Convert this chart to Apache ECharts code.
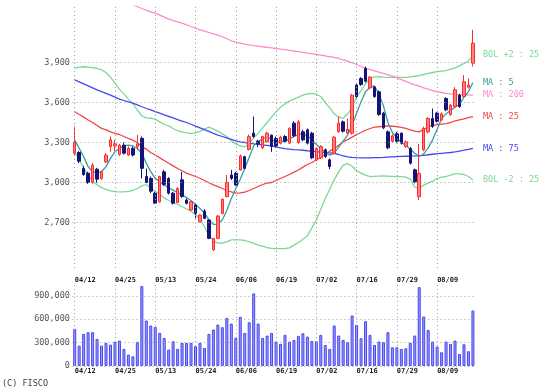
<!DOCTYPE html>
<html><head><meta charset="utf-8">
<script src="https://cdn.jsdelivr.net/npm/echarts@6/dist/echarts.min.js"></script>
<style>html,body{margin:0;padding:0;background:#fff}#c{width:554px;height:391px}</style>
</head><body><div id="c"></div>
<script>
const dates = ['04/12','04/15','04/16','04/17','04/18','04/19','04/22','04/23','04/24','04/25',
'04/26','04/30','05/01','05/02','05/07','05/08','05/09','05/10','05/13','05/14',
'05/15','05/16','05/17','05/20','05/21','05/22','05/23','05/24','05/27','05/28',
'05/29','05/30','05/31','06/03','06/04','06/05','06/06','06/07','06/10','06/11',
'06/12','06/13','06/14','06/17','06/18','06/19','06/20','06/21','06/24','06/25',
'06/26','06/27','06/28','07/01','07/02','07/03','07/04','07/05','07/08','07/09',
'07/10','07/11','07/12','07/16','07/17','07/18','07/19','07/22','07/23','07/24',
'07/25','07/26','07/29','07/30','07/31','08/01','08/02','08/05','08/06','08/07',
'08/08','08/09','08/13','08/14','08/15','08/16','08/19','08/20','08/21','08/22'];

// [open, close, low, high]
const candles = [
[3220,3300,3205,3420],[3225,3160,3145,3235],[3105,3060,3050,3125],[3070,3000,2990,3080],[3000,3130,2990,3145],
[3100,3025,2995,3110],[3030,3080,3020,3090],[3155,3205,3145,3220],[3270,3320,3230,3345],[3275,3290,3235,3320],
[3210,3280,3200,3290],[3280,3220,3210,3300],[3206,3256,3200,3270],[3256,3206,3195,3270],[3270,3290,3244,3356],
[3331,3106,3031,3345],[3045,3000,2995,3105],[3030,2935,2920,3045],[2920,2845,2840,2930],[2855,3045,2850,3050],
[3080,2985,2975,3095],[3030,2920,2910,3040],[2920,2845,2835,2930],[2850,2955,2845,2965],[3020,2895,2885,3080],
[2869,2844,2835,2880],[2794,2856,2785,2865],[2831,2769,2731,2840],[2706,2756,2700,2760],[2786,2731,2725,2800],
[2719,2581,2575,2725],[2495,2580,2488,2585],[2581,2749,2575,2755],[2769,2874,2760,2880],[2894,2999,2890,3056],
[3056,3031,3019,3094],[3069,2981,2975,3080],[3094,3199,3090,3210],[3194,3106,3100,3200],[3249,3344,3240,3360],
[3370,3345,3335,3495],[3310,3290,3265,3320],[3260,3345,3250,3350],[3305,3370,3300,3380],[3355,3270,3230,3360],
[3330,3275,3260,3345],[3295,3340,3285,3350],[3345,3310,3300,3355],[3295,3405,3290,3415],[3445,3350,3340,3460],
[3300,3455,3290,3470],[3380,3320,3310,3395],[3395,3295,3285,3405],[3370,3185,3175,3380],[3170,3255,3160,3265],
[3185,3270,3175,3280],[3245,3195,3185,3255],[3170,3120,3100,3180],[3220,3340,3210,3350],[3380,3445,3375,3495],
[3455,3385,3375,3465],[3370,3400,3360,3480],[3370,3655,3360,3665],[3730,3645,3635,3740],[3780,3735,3725,3790],
[3855,3760,3750,3870],[3710,3790,3700,3800],[3715,3645,3635,3725],[3680,3510,3500,3690],[3520,3410,3400,3530],
[3380,3260,3250,3390],[3310,3350,3300,3360],[3365,3310,3295,3380],[3370,3295,3285,3375],[3270,3305,3260,3315],
[3255,3145,3135,3265],[3095,3005,2995,3105],[2894,3069,2869,3290],[3245,3405,3235,3420],[3380,3480,3370,3490],
[3480,3420,3410,3555],[3520,3460,3450,3530],[3470,3515,3460,3525],[3630,3545,3535,3640],[3510,3580,3500,3590],
[3570,3695,3560,3715],[3655,3570,3560,3665],[3645,3755,3640,3805],[3715,3730,3705,3780],[3895,4045,3870,4145]];

const volume = [476000,261000,411000,433000,433000,347000,261000,296000,274000,309000,
326000,219000,146000,124000,309000,1024000,583000,519000,501000,424000,
360000,210000,317000,219000,296000,296000,296000,253000,296000,231000,
411000,467000,531000,497000,617000,544000,360000,630000,424000,561000,
930000,544000,360000,390000,424000,313000,283000,399000,313000,334000,
386000,420000,377000,321000,317000,399000,270000,219000,519000,390000,
334000,304000,647000,527000,356000,574000,399000,270000,313000,304000,
433000,240000,240000,219000,227000,296000,390000,1011000,634000,463000,
313000,249000,176000,313000,283000,326000,154000,279000,189000,711000];

const ma5 = [3319,3256,3194,3119,3081,3074,3081,3119,3181,3231,
3256,3274,3281,3274,3256,3219,3144,3081,3031,3006,
2981,2960,2943,2925,2905,2887,2865,2835,2805,2770,
2720,2686,2688,2720,2790,2880,2955,3025,3105,3190,
3275,3305,3330,3340,3325,3300,3305,3310,3325,3345,
3360,3365,3350,3320,3285,3255,3225,3205,3220,3265,
3310,3356,3431,3519,3606,3681,3714,3725,3660,3575,
3450,3375,3335,3300,3280,3250,3220,3195,3215,3260,
3320,3400,3480,3515,3540,3565,3585,3640,3680,3750];

const ma25 = [3531,3510,3490,3469,3450,3428,3406,3395,3380,3369,
3360,3345,3331,3318,3300,3269,3250,3225,3206,3185,
3165,3144,3125,3105,3088,3070,3058,3045,3032,3015,
2998,2982,2969,2955,2940,2930,2920,2922,2928,2940,
2955,2970,2985,2995,3000,3015,3030,3045,3060,3078,
3094,3115,3135,3150,3169,3190,3212,3235,3256,3280,
3306,3322,3340,3360,3375,3392,3405,3415,3418,3422,
3424,3422,3419,3414,3406,3395,3385,3380,3400,3415,
3428,3434,3438,3442,3450,3462,3470,3478,3486,3494];

const ma75 = [3769,3755,3740,3725,3710,3695,3681,3668,3655,3640,
3625,3615,3605,3595,3582,3568,3555,3544,3532,3520,
3508,3496,3484,3472,3461,3450,3437,3423,3410,3396,
3383,3369,3356,3345,3334,3323,3312,3305,3300,3295,
3290,3286,3282,3278,3274,3268,3260,3254,3250,3247,
3245,3242,3238,3235,3232,3228,3225,3222,3219,3210,
3200,3192,3188,3186,3185,3185,3185,3186,3187,3188,
3190,3192,3194,3196,3197,3198,3199,3201,3204,3208,
3212,3216,3219,3222,3225,3230,3236,3242,3249,3256];

const ma200 = [null,null,null,null,null,null,null,null,null,null,
null,null,null,4332,4318,4305,4292,4280,4268,4255,
4240,4225,4214,4205,4195,4183,4170,4157,4144,4135,
4125,4115,4106,4093,4080,4063,4052,4045,4038,4032,
4027,4023,4018,4014,4010,4005,4000,3996,3991,3986,
3981,3976,3971,3966,3961,3955,3949,3943,3938,3930,
3920,3910,3898,3885,3870,3856,3846,3838,3828,3819,
3808,3797,3786,3772,3758,3745,3733,3722,3710,3700,
3689,3682,3675,3668,3664,3661,3659,3658,3657,3656];

const bolUpper = [3856,3866,3868,3866,3862,3855,3845,3825,3790,3745,
3700,3665,3625,3590,3545,3500,3485,3482,3475,3455,
3435,3425,3405,3388,3380,3372,3369,3372,3383,3400,
3415,3400,3385,3365,3345,3310,3290,3275,3268,3290,
3335,3370,3410,3450,3490,3530,3565,3590,3612,3625,
3640,3655,3665,3668,3662,3645,3600,3560,3515,3490,
3482,3515,3560,3640,3690,3740,3780,3792,3793,3790,
3789,3789,3789,3789,3789,3792,3797,3802,3810,3818,
3825,3832,3836,3839,3850,3860,3875,3893,3910,3956];

const bolLower = [3231,3170,3110,3055,3010,2982,2962,2948,2938,2932,
2930,2930,2933,2940,2955,2975,2985,2960,2935,2910,
2885,2865,2850,2835,2818,2803,2785,2760,2724,2670,
2600,2565,2545,2545,2555,2569,2570,2569,2565,2555,
2545,2531,2522,2512,2506,2504,2504,2505,2510,2530,
2550,2575,2600,2660,2720,2800,2880,2950,3020,3080,
3130,3142,3122,3090,3070,3055,3044,3046,3048,3049,
3048,3046,3045,3044,3040,3025,2965,2960,2980,2995,
3010,3030,3040,3045,3055,3064,3065,3060,3045,3019];

const priceTicks = [2700,3000,3300,3600,3900];
const volumeTicks = [0,300000,600000,900000];
const dateGridIndex = [0,9,18,27,36,45,54,63,72,81];

const MONO = 'DejaVu Sans Mono';
const gridStyle = {color:'#9a9a9a', type:[1,3], width:1};
const fmt = v => Math.round(v).toLocaleString('en-US');

function gridLines(yVals){
  return {
    silent:true, symbol:['none','none'], label:{show:false}, animation:false,
    lineStyle:gridStyle, emphasis:{disabled:true},
    data: yVals.map(v=>({yAxis:v})).concat(dateGridIndex.map(i=>({xAxis:i})))
  };
}
function maLine(name, data, color, label){
  return {
    type:'line', name, data, xAxisIndex:0, yAxisIndex:0, showSymbol:false, symbol:'none',
    lineStyle:{color, width:1.3}, itemStyle:{color}, z:3, connectNulls:false,
    endLabel:{show:true, formatter:label, color, fontFamily:MONO, fontSize:8.5, distance:10}
  };
}
const xLabel = (margin)=>({interval:(i)=> i%9===0, align:'left', margin, fontSize:7, fontWeight:'bold',
  fontFamily:MONO, color:'#222', lineHeight:8});

const chart = echarts.init(document.getElementById('c'), null, {renderer:'canvas'});
chart.setOption({
  animation:false,
  backgroundColor:'#fff',
  grid:[
    {left:72.46, width:402.7, top:6.5, height:261.5},
    {left:72.46, width:402.7, top:283, height:83}
  ],
  xAxis:[
    {type:'category', gridIndex:0, data:dates, boundaryGap:true, axisLine:{show:false}, axisTick:{show:false},
     splitLine:{show:false}, axisLabel:xLabel(8)},
    {type:'category', gridIndex:1, data:dates, boundaryGap:true, axisLine:{show:false}, axisTick:{show:false},
     splitLine:{show:false}, axisLabel:xLabel(1)}
  ],
  yAxis:[
    {type:'value', gridIndex:0, min:2358.75, max:4320, axisLine:{show:false}, axisTick:{show:false}, splitLine:{show:false},
     axisLabel:{customValues:priceTicks, formatter:fmt, margin:2.5, fontFamily:MONO, fontSize:8.5, color:'#555'}},
    {type:'value', gridIndex:1, min:0, max:1064000, axisLine:{show:false}, axisTick:{show:false}, splitLine:{show:false},
     axisLabel:{customValues:volumeTicks, formatter:fmt, margin:2.5, fontFamily:MONO, fontSize:8.5, color:'#555'}}
  ],
  graphic:[{type:'text', left:2, top:379, style:{text:'(C) FISCO', font:'8.5px "DejaVu Sans Mono"', fill:'#444'}}],
  series:[
    {type:'line', data:[], xAxisIndex:0, yAxisIndex:0, z:1, markLine:gridLines(priceTicks)},
    {type:'line', data:[], xAxisIndex:1, yAxisIndex:1, z:1, markLine:gridLines(volumeTicks)},
    maLine('BOL+2', bolUpper, '#7ad996', 'BOL +2 : 25'),
    maLine('BOL-2', bolLower, '#7ad996', 'BOL -2 : 25'),
    maLine('MA200', ma200, '#ff8acb', 'MA : 200'),
    maLine('MA75', ma75, '#4646f0', 'MA : 75'),
    maLine('MA25', ma25, '#f04646', 'MA : 25'),
    {type:'candlestick', xAxisIndex:0, yAxisIndex:0, data:candles, barWidth:3, z:4,
     itemStyle:{color:'#ff8080', color0:'#13137a', borderColor:'#ff2a2a', borderColor0:'#13137a', borderWidth:1}},
    maLine('MA5', ma5, '#3a9c9c', 'MA : 5'),
    {type:'bar', xAxisIndex:1, yAxisIndex:1, data:volume, barWidth:3, z:3,
     itemStyle:{color:'#9a9aff', borderColor:'#4848f0', borderWidth:1}}
  ]
});
</script></body></html>
